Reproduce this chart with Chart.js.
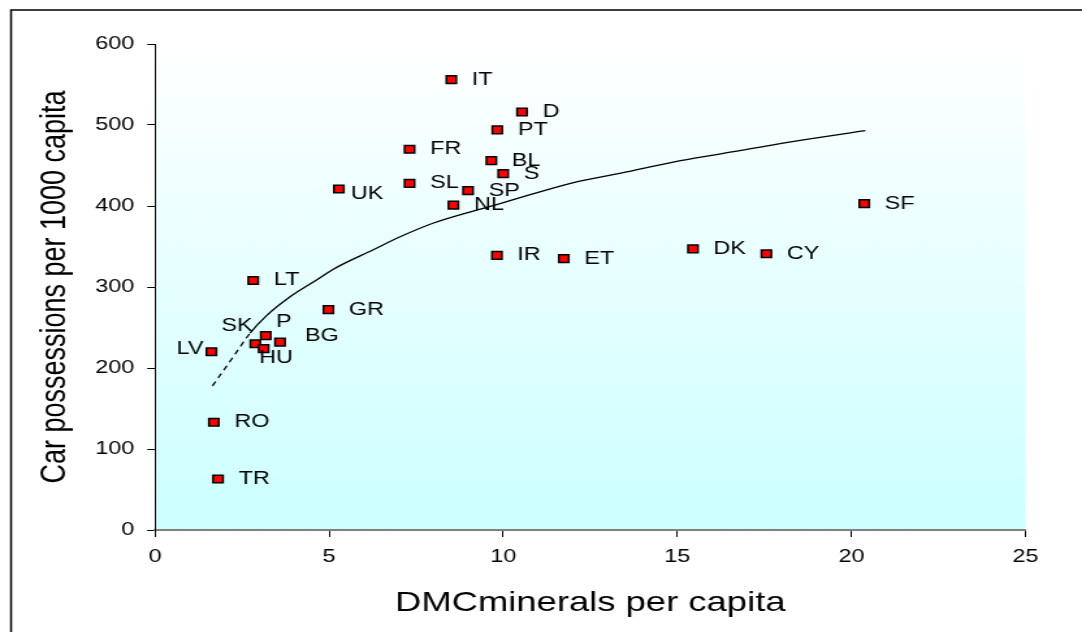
<!DOCTYPE html>
<html>
<head>
<meta charset="utf-8">
<title>Car possessions vs DMC minerals</title>
<script src="https://cdn.jsdelivr.net/npm/chart.js@4.4.1/dist/chart.umd.min.js"></script>
<style>
  html, body { margin: 0; padding: 0; background: #fff; overflow: hidden; }
  /* the source picture is stretched sideways, so draw narrow and widen */
  #wrap { width: 832px; height: 632px; transform: scaleX(1.3005); transform-origin: 0 0; }
</style>
</head>
<body>
<div id="wrap"><canvas id="carsVsMinerals" width="832" height="632"></canvas></div>
<script>
const countries = ['IT', 'D', 'PT', 'FR', 'BL', 'S', 'SL', 'SP', 'UK', 'NL', 'IR', 'ET',
  'DK', 'CY', 'SF', 'LT', 'GR', 'P', 'BG', 'SK', 'HU', 'LV', 'RO', 'TR'];
const dmcMinerals = [8.51, 10.54, 9.83, 7.31, 9.66, 10.0, 7.31, 8.99, 5.28, 8.57, 9.82, 11.74,
  15.45, 17.56, 20.37, 2.82, 4.98, 3.18, 3.59, 2.88, 3.12, 1.62, 1.69, 1.81];
const carsPer1000 = [556, 516, 494, 470, 456, 440, 428, 419, 421, 401, 339, 335,
  347, 341, 403, 308, 272, 240, 232, 230, 224, 220, 133, 63];

// trend curve
const trendX = [1.65, 2.25, 2.73, 3.21, 3.88, 4.65, 5.12, 6.27, 7.04, 8.0, 9.24, 9.91,
  12.02, 13.55, 15.09, 16.62, 18.53, 20.4];
const trendY = [178, 214, 243, 265, 288, 309, 322, 346, 362, 379, 395, 403,
  429, 442, 456, 467, 481, 493];

const xTicks = [0, 5, 10, 15, 20, 25];
const yTicks = [0, 100, 200, 300, 400, 500, 600];

const STRETCH = 1.3005;
const fontFamily = "'Liberation Sans', Arial, sans-serif";
const dashUntil = 2.73;

// label placement in screen px, relative to the marker centre
const labelNudge = {
  LV: { align: 'right', dx: -8, dy: -3 },
  SK: { align: 'right', dx: -2.6, dy: -17.7 },
  P: { dx: 10.3, dy: -14 },
  HU: { dx: -4.4, dy: 9 },
  BG: { dx: 25, dy: -6 },
  UK: { dx: 12, dy: 5 }
};

const backdropPlugin = {
  id: 'backdrop',
  beforeDraw(chart) {
    const { ctx, chartArea } = chart;
    ctx.save();
    const gradient = ctx.createLinearGradient(0, chartArea.top, 0, chartArea.bottom);
    gradient.addColorStop(0, '#ffffff');
    gradient.addColorStop(1, '#ccffff');
    ctx.fillStyle = gradient;
    ctx.fillRect(chartArea.left, chartArea.top, chartArea.right - chartArea.left, chartArea.bottom - chartArea.top);

    ctx.strokeStyle = '#000';
    ctx.lineWidth = 1.5;
    ctx.strokeRect(8.5, 10, chart.width + 20, chart.height + 20);
    ctx.restore();
  }
};

const pointLabelPlugin = {
  id: 'pointLabels',
  afterDatasetsDraw(chart) {
    const { ctx } = chart;
    const points = chart.getDatasetMeta(0).data;
    ctx.save();
    ctx.font = `18px ${fontFamily}`;
    ctx.fillStyle = '#000';
    ctx.textBaseline = 'middle';
    points.forEach((point, i) => {
      const name = countries[i];
      const nudge = labelNudge[name] || { dx: 20.5, dy: 0 };
      ctx.textAlign = nudge.align || 'left';
      ctx.fillText(name, point.x + nudge.dx / STRETCH, point.y + nudge.dy);
    });
    ctx.restore();
  }
};

new Chart(document.getElementById('carsVsMinerals'), {
  type: 'scatter',
  data: {
    datasets: [
      {
        data: dmcMinerals.map((x, i) => ({ x, y: carsPer1000[i] })),
        pointStyle: 'rect',
        pointRadius: 5.4,
        pointBackgroundColor: '#ff0000',
        pointBorderColor: '#000',
        pointBorderWidth: 1.5
      },
      {
        data: trendX.map((x, i) => ({ x, y: trendY[i] })),
        showLine: true,
        pointRadius: 0,
        borderColor: '#000',
        borderWidth: 1.3,
        cubicInterpolationMode: 'monotone',
        segment: {
          borderDash: ctx => ctx.p1.parsed.x <= dashUntil ? [5, 4] : undefined
        }
      }
    ]
  },
  options: {
    responsive: false,
    animation: false,
    layout: {
      padding: { left: 0, top: 44, right: 43.5, bottom: 0 }
    },
    plugins: {
      legend: { display: false },
      tooltip: { enabled: false }
    },
    scales: {
      x: {
        type: 'linear',
        min: 0,
        max: 25,
        afterFit: scale => { scale.height = 102; },
        afterBuildTicks: scale => { scale.ticks = xTicks.map(value => ({ value })); },
        border: { color: '#808080', width: 2 },
        grid: { drawOnChartArea: false, color: '#000', tickLength: 7 },
        ticks: { color: '#000', padding: 9, maxRotation: 0, font: { family: fontFamily, size: 18 } },
        title: {
          display: true,
          text: 'DMCminerals per capita',
          color: '#000',
          font: { family: fontFamily, size: 28 },
          padding: { top: 0, bottom: 11.5 }
        }
      },
      y: {
        type: 'linear',
        min: 0,
        max: 600,
        afterFit: scale => { scale.width = 119.2; },
        afterBuildTicks: scale => { scale.ticks = yTicks.map(value => ({ value })); },
        border: { color: '#000', width: 1 },
        grid: { drawOnChartArea: false, color: '#000', tickLength: 6 },
        ticks: { color: '#000', padding: 10, font: { family: fontFamily, size: 18 } },
        title: {
          display: true,
          text: 'Car possessions per 1000 capita',
          color: '#000',
          font: { family: fontFamily, size: 27 },
          padding: { top: 26.8, bottom: 0 }
        }
      }
    }
  },
  plugins: [backdropPlugin, pointLabelPlugin]
});
</script>
</body>
</html>
